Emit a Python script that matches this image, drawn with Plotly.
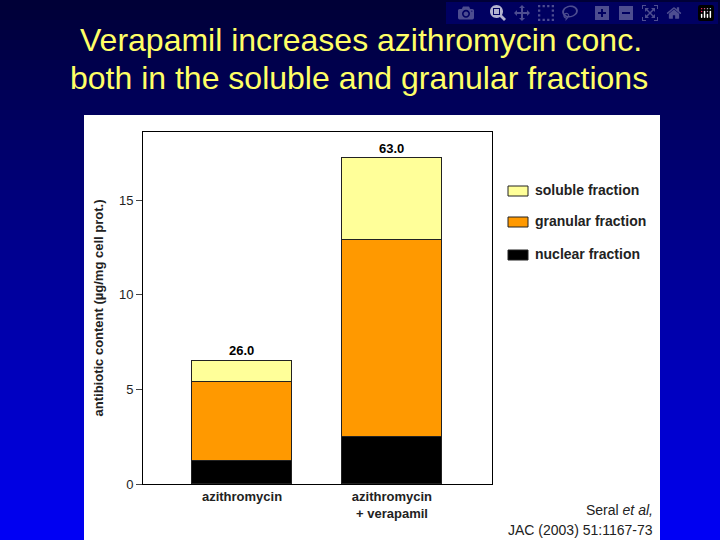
import plotly.graph_objects as go

categories = ["azithromycin", "azithromycin<br>+ verapamil"]
nuclear = [1.2, 2.5]
granular = [4.2, 10.4]
soluble = [1.1, 4.3]
totals_label = ["26.0", "63.0"]
series_names = ["soluble fraction", "granular fraction", "nuclear fraction"]
series_colors = ["#ffff99", "#ff9900", "#000000"]

W, H = 720, 540
L, R, T, B = 143, 228, 132, 56
xs = [0, 1]

fig = go.Figure()
for name, vals, col in [("nuclear fraction", nuclear, "#000000"),
                        ("granular fraction", granular, "#ff9900"),
                        ("soluble fraction", soluble, "#ffff99")]:
    fig.add_bar(x=xs, y=vals, name=name, marker=dict(color=col, line=dict(color="#222", width=1)),
                width=0.667, showlegend=False)

tops = [n + g + s for n, g, s in zip(nuclear, granular, soluble)]
for x, t, lab in zip(xs, tops, totals_label):
    fig.add_annotation(x=x, y=t, text="<b>%s</b>" % lab, showarrow=False, yshift=10,
                       font=dict(size=13, color="black", family="Arial"))

pw, ph = W - L - R, H - T - B
def px(x): return (x - L) / pw
def py(y): return (H - B - y) / ph

shapes = []
n = 54
for i in range(n):
    f = i / (n - 1)
    c = "rgb(0,0,%d)" % int(55 + f * 190)
    shapes.append(dict(type="rect", xref="paper", yref="paper", layer="below",
                       x0=px(0), x1=px(W), y0=py((i + 1) * H / n + 1), y1=py(i * H / n),
                       line=dict(width=0), fillcolor=c))
shapes.append(dict(type="rect", xref="paper", yref="paper", layer="below",
                   x0=px(84), x1=px(660), y0=py(540), y1=py(115),
                   line=dict(width=0), fillcolor="white"))
leg_y = [190, 221, 254]
for y, nm, col in zip(leg_y, series_names, series_colors):
    shapes.append(dict(type="rect", xref="paper", yref="paper",
                       x0=px(508), x1=px(528), y0=py(y + 6), y1=py(y - 4),
                       line=dict(color="#222", width=1), fillcolor=col))
    fig.add_annotation(xref="paper", yref="paper", x=px(533), y=py(y), text="<b>%s</b>" % nm,
                       showarrow=False, xanchor="left", yanchor="middle",
                       font=dict(size=14, color="#222", family="Arial"))

fig.add_annotation(xref="paper", yref="paper", x=px(361), y=py(40),
                   text="Verapamil increases azithromycin conc.", showarrow=False,
                   xanchor="center", yanchor="middle", font=dict(size=32, color="#ffff66", family="Arial"))
fig.add_annotation(xref="paper", yref="paper", x=px(359), y=py(78),
                   text="both in the soluble and granular fractions", showarrow=False,
                   xanchor="center", yanchor="middle", font=dict(size=32, color="#ffff66", family="Arial"))
fig.add_annotation(xref="paper", yref="paper", x=px(655), y=py(510),
                   text="Seral <i>et al,</i>", showarrow=False, xanchor="right", yanchor="middle",
                   font=dict(size=14, color="#222", family="Arial"))
fig.add_annotation(xref="paper", yref="paper", x=px(655), y=py(530),
                   text="JAC (2003) 51:1167-73", showarrow=False, xanchor="right", yanchor="middle",
                   font=dict(size=14, color="#222", family="Arial"))

fig.update_layout(
    width=W, height=H, margin=dict(l=L, r=R, t=T, b=B),
    barmode="stack", bargap=0,
    paper_bgcolor="#000088", plot_bgcolor="white",
    shapes=shapes,
    font=dict(family="Arial", color="#222"),
    xaxis=dict(range=[-0.66, 1.667], tickvals=xs, ticktext=["<b>%s</b>" % c for c in categories],
               showline=True, linecolor="black", linewidth=1, mirror=True, ticks="",
               tickfont=dict(size=13, color="#222"), showgrid=False, zeroline=False),
    yaxis=dict(range=[0, 18.6], tickvals=[0, 5, 10, 15], ticks="outside", ticklen=6,
               showline=True, linecolor="black", linewidth=1, mirror=True, showgrid=False,
               zeroline=False, tickfont=dict(size=13, color="#222"),
               title=dict(text="<b>antibiotic content (µg/mg cell prot.)</b>", standoff=12,
                          font=dict(size=13, color="#222"))),
)
fig.write_html("out.html", post_script="document.body.style.margin='0';document.body.style.overflow='hidden';")
